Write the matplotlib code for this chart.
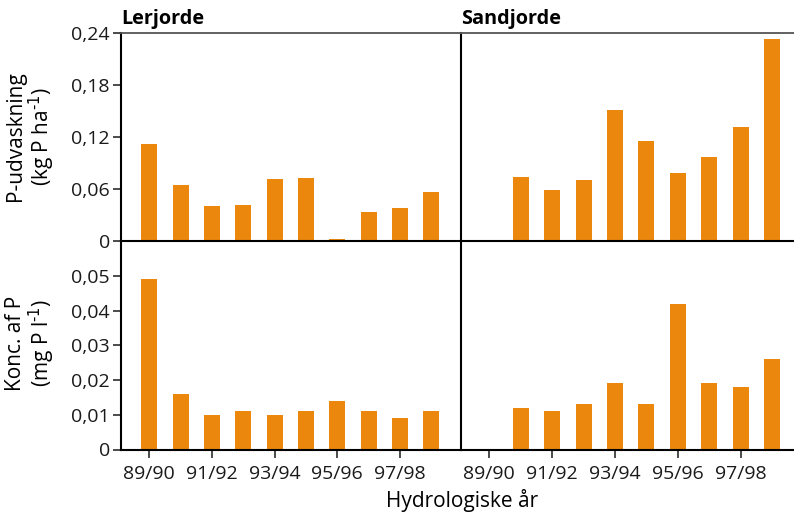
import matplotlib
matplotlib.use("Agg")
import matplotlib.pyplot as plt
from matplotlib.ticker import FuncFormatter

plt.rcParams["font.family"] = ["Open Sans", "DejaVu Sans"]

# -----------------------------
# data
# -----------------------------
years = ["89/90", "90/91", "91/92", "92/93", "93/94",
         "94/95", "95/96", "96/97", "97/98", "98/99"]
tick_labels = ["89/90", "91/92", "93/94", "95/96", "97/98"]

ler_udv = [0.112, 0.065, 0.040, 0.041, 0.071, 0.073, 0.002, 0.033, 0.038, 0.056]
sand_udv = [None, 0.074, 0.059, 0.070, 0.151, 0.115, 0.078, 0.097, 0.132, 0.233]
ler_konc = [0.049, 0.016, 0.010, 0.011, 0.010, 0.011, 0.014, 0.011, 0.009, 0.011]
sand_konc = [None, 0.012, 0.011, 0.013, 0.019, 0.013, 0.042, 0.019, 0.018, 0.026]

udv_ticks = [0, 0.06, 0.12, 0.18, 0.24]
konc_ticks = [0, 0.01, 0.02, 0.03, 0.04, 0.05]

ORANGE = "#EC870E"
W, H = 794, 513


def comma_fmt(v, _pos):
    if abs(v) < 1e-12:
        return "0"
    return f"{v:.2f}".replace(".", ",")


def box(x0, y0, x1, y1):
    # pixel box (top-left origin) -> figure fraction
    return [x0 / W, (H - y1) / H, (x1 - x0) / W, (y1 - y0) / H]


fig = plt.figure(figsize=(W / 100, H / 100), dpi=100)

ax_tl = fig.add_axes(box(121, 33, 461, 241))
ax_tr = fig.add_axes(box(461, 33, 794, 241))
ax_bl = fig.add_axes(box(121, 241, 461, 449.5))
ax_br = fig.add_axes(box(461, 241, 794, 449.5))

panels = [
    (ax_tl, ler_udv, (0, 0.24), udv_ticks),
    (ax_tr, sand_udv, (0, 0.24), udv_ticks),
    (ax_bl, ler_konc, (0, 0.06), konc_ticks),
    (ax_br, sand_konc, (0, 0.06), konc_ticks),
]

for ax, vals, ylim, yt in panels:
    xs = [i for i, v in enumerate(vals) if v is not None]
    hs = [v for v in vals if v is not None]
    ax.bar(xs, hs, width=0.51, color=ORANGE, zorder=2)
    ax.set_ylim(*ylim)
    ax.set_yticks(yt)
    ax.yaxis.set_major_formatter(FuncFormatter(comma_fmt))
    ax.set_xticks(range(0, 10, 2))
    ax.set_xticklabels(tick_labels)
    ax.tick_params(axis="both", labelsize=14, length=6, width=1.1,
                   colors="#1a1a1a", pad=2)
    ax.tick_params(axis="x", pad=5)
    ax.set_facecolor("none")
    for s in ax.spines.values():
        s.set_linewidth(1.5)
        s.set_color("black")

ax_tl.set_xlim(-0.9, 9.95)
ax_bl.set_xlim(-0.9, 9.95)
ax_tr.set_xlim(-0.9, 9.7)
ax_br.set_xlim(-0.9, 9.7)

# top row: no x ticks, grey top rule
for ax in (ax_tl, ax_tr):
    ax.tick_params(axis="x", bottom=False, labelbottom=False)
    ax.spines["top"].set_color("#555555")
    ax.spines["top"].set_linewidth(1.3)

# bottom row: no top rule
for ax in (ax_bl, ax_br):
    ax.spines["top"].set_visible(False)

# right column: no y ticks, no right spine
for ax in (ax_tr, ax_br):
    ax.tick_params(axis="y", left=False, labelleft=False)
    ax.spines["right"].set_visible(False)
    ax.spines["left"].set_visible(False)

# titles
ax_tl.text(0.0, 1.02, "Lerjorde", transform=ax_tl.transAxes, ha="left",
           va="bottom", fontsize=14.3, fontweight="bold")
ax_tr.text(0.0, 1.02, "Sandjorde", transform=ax_tr.transAxes, ha="left",
           va="bottom", fontsize=14.3, fontweight="bold")

# y labels
fig.text(31 / W, 1 - 136 / H, "P-udvaskning\n(kg P ha$^{\\text{-1}}$)",
         rotation=90, ha="center", va="center", multialignment="center",
         fontsize=15, linespacing=1.05)
fig.text(31 / W, 1 - 343 / H, "Konc. af P\n(mg P l$^{\\text{-1}}$)",
         rotation=90, ha="center", va="center", multialignment="center",
         fontsize=15, linespacing=1.05)

# x label
fig.text(462 / W, 1 - 501 / H, "Hydrologiske år", ha="center", va="center",
         fontsize=15)

fig.savefig("out.png", dpi=100)
plt.close(fig)
